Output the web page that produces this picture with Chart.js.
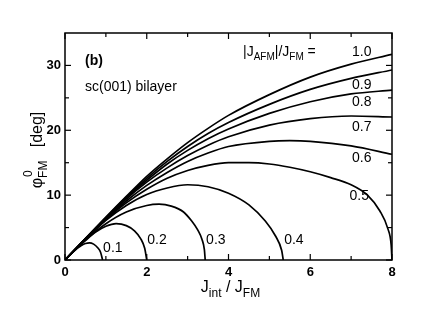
<!DOCTYPE html>
<html>
<head>
<meta charset="utf-8">
<script src="https://cdn.jsdelivr.net/npm/chart.js@4.4.1/dist/chart.umd.min.js"></script>
<style>
  html, body { margin: 0; padding: 0; background: #fff; }
  #wrap { width: 423px; height: 327px; }
</style>
</head>
<body>
<div id="wrap"><canvas id="grafik" width="423" height="327"></canvas></div>
<script>
// === DATA ===
// J_int / J_FM  vs  phi_FM^0 [deg], satu kurva per |J_AFM|/J_FM
const x01 = [0, 0.1, 0.2, 0.3, 0.4, 0.5, 0.6, 0.7, 0.8, 0.87, 0.92];
const phi01 = [0, 0.65, 1.25, 1.8, 2.25, 2.55, 2.65, 2.45, 1.9, 1.2, 0];

const x02 = [0, 0.25, 0.5, 0.75, 1, 1.25, 1.5, 1.7, 1.85, 1.95, 2.0];
const phi02 = [0, 1.6, 3.0, 4.3, 5.2, 5.6, 5.3, 4.5, 3.3, 1.8, 0];

const x03 = [0, 0.25, 0.5, 1, 1.5, 2, 2.3, 2.6, 2.9, 3.1, 3.25, 3.35, 3.41, 3.43];
const phi03 = [0, 1.6, 3.1, 5.6, 7.4, 8.4, 8.6, 8.3, 7.4, 6.0, 4.6, 3.2, 1.6, 0];

const x04 = [0, 0.5, 1, 1.5, 2, 2.5, 3, 3.5, 4, 4.5, 4.9, 5.15, 5.3, 5.34];
const phi04 = [0, 3.2, 6.1, 8.4, 10.1, 11.1, 11.6, 11.3, 10.3, 8.5, 6.0, 3.7, 1.5, 0];

const x05 = [0, 0.5, 1, 1.5, 2, 2.5, 3, 3.5, 4, 4.5, 5, 5.5, 6, 6.5, 7, 7.4, 7.7, 7.9, 7.98, 8];
const phi05 = [0, 3.2, 6.2, 8.8, 10.9, 12.6, 13.8, 14.6, 15.0, 15.0, 14.8, 14.3, 13.6, 12.7, 11.6, 10.0, 7.6, 4.8, 2.3, 0];

const x06 = [0, 0.5, 1, 1.5, 2, 2.5, 3, 3.5, 4, 5, 5.5, 6, 7, 8];
const phi06 = [0, 3.3, 6.3, 9.1, 11.5, 13.5, 15.2, 16.5, 17.5, 18.3, 18.4, 18.3, 17.6, 16.3];

const x07 = [0, 0.5, 1, 1.5, 2, 2.5, 3, 3.5, 4, 5, 6, 7, 8];
const phi07 = [0, 3.3, 6.4, 9.4, 12.0, 14.2, 16.1, 17.7, 19.0, 20.8, 21.8, 22.2, 22.05];

const x08 = [0, 0.5, 1, 1.5, 2, 2.5, 3, 3.5, 4, 5, 6, 7, 8];
const phi08 = [0, 3.3, 6.5, 9.6, 12.3, 14.8, 16.9, 18.7, 20.2, 22.6, 24.4, 25.6, 26.2];

const x09 = [0, 0.5, 1, 1.5, 2, 2.5, 3, 3.5, 4, 5, 6, 7, 8];
const phi09 = [0, 3.3, 6.5, 9.7, 12.6, 15.2, 17.5, 19.5, 21.2, 24.0, 26.3, 28.0, 29.3];

const x10 = [0, 0.5, 1, 1.5, 2, 2.5, 3, 3.5, 4, 5, 6, 7, 8];
const phi10 = [0, 3.3, 6.6, 9.8, 12.9, 15.6, 18.1, 20.3, 22.3, 25.5, 28.2, 30.2, 31.7];

const ratioLabels = ["0.1", "0.2", "0.3", "0.4", "0.5", "0.6", "0.7", "0.8", "0.9", "1.0"];

const xTicks = [0, 2, 4, 6, 8];
const xMinorTicks = [1, 3, 5, 7];
const yTicks = [0, 10, 20, 30];
const yMinorTicks = [5, 15, 25];

// posisi label kurva (koordinat data)
const labelPos = [
  [1.17, 1.9], [2.25, 3.0], [3.69, 3.0], [5.6, 3.0], [7.2, 9.9],
  [7.26, 15.7], [7.26, 20.5], [7.26, 24.3], [7.26, 26.9], [7.26, 32.0]
];

const FONT = "'Liberation Sans', Arial, Helvetica, sans-serif";

const allX = [x01, x02, x03, x04, x05, x06, x07, x08, x09, x10];
const allPhi = [phi01, phi02, phi03, phi04, phi05, phi06, phi07, phi08, phi09, phi10];

const datasets = allX.map((xs, i) => ({
  label: ratioLabels[i],
  data: xs.map((x, j) => ({ x: x, y: allPhi[i][j] })),
  borderColor: "#000",
  borderWidth: 1.7,
  pointRadius: 0,
  showLine: true,
  fill: false,
  cubicInterpolationMode: "monotone"
}));

// tulis teks dengan subscript / superscript
function drawRuns(ctx, runs, x, y) {
  let cx = x;
  runs.forEach(r => {
    ctx.font = r.font;
    ctx.fillText(r.t, cx, y + (r.dy || 0));
    cx += ctx.measureText(r.t).width;
  });
  return cx - x;
}
function runsWidth(ctx, runs) {
  let w = 0;
  runs.forEach(r => { ctx.font = r.font; w += ctx.measureText(r.t).width; });
  return w;
}

const decorPlugin = {
  id: "decor",
  afterDraw(chart) {
    const ctx = chart.ctx;
    const { left, right, top, bottom } = chart.chartArea;
    const sx = chart.scales.x, sy = chart.scales.y;
    ctx.save();
    ctx.strokeStyle = "#000";
    ctx.lineWidth = 1.5;
    ctx.strokeRect(left, top, right - left, bottom - top);

    // tick ke dalam, di keempat sisi
    ctx.lineWidth = 1.2;
    const seg = (a, b, c, d) => { ctx.beginPath(); ctx.moveTo(a, b); ctx.lineTo(c, d); ctx.stroke(); };
    xTicks.forEach(v => { const p = sx.getPixelForValue(v); seg(p, bottom, p, bottom - 6); seg(p, top, p, top + 6); });
    xMinorTicks.forEach(v => { const p = sx.getPixelForValue(v); seg(p, bottom, p, bottom - 4); seg(p, top, p, top + 4); });
    yTicks.forEach(v => { const p = sy.getPixelForValue(v); seg(left, p, left + 6, p); seg(right, p, right - 6, p); });
    yMinorTicks.forEach(v => { const p = sy.getPixelForValue(v); seg(left, p, left + 4, p); seg(right, p, right - 4, p); });

    ctx.fillStyle = "#000";

    // label kurva
    ctx.font = "14px " + FONT;
    ctx.textAlign = "center";
    ctx.textBaseline = "middle";
    labelPos.forEach((p, i) => {
      ctx.fillText(ratioLabels[i], sx.getPixelForValue(p[0]), sy.getPixelForValue(p[1]));
    });
    ctx.textAlign = "left";
    ctx.textBaseline = "alphabetic";

    ctx.font = "bold 14px " + FONT;
    ctx.fillText("(b)", left + 20, top + 32);
    ctx.font = "14px " + FONT;
    ctx.fillText("sc(001) bilayer", left + 20, top + 58);

    const fMain = "14px " + FONT, fSub = "10px " + FONT;
    drawRuns(ctx, [
      { t: "|J", font: fMain }, { t: "AFM", font: fSub, dy: 4 },
      { t: "|/J", font: fMain }, { t: "FM", font: fSub, dy: 4 },
      { t: " =", font: fMain }
    ], 243, top + 23);

    // judul sumbu x
    const fBig = "16px " + FONT, fSmall = "12px " + FONT;
    const xRuns = [
      { t: "J", font: fBig }, { t: "int", font: fSmall, dy: 5 },
      { t: " / J", font: fBig }, { t: "FM", font: fSmall, dy: 5 }
    ];
    const xw = runsWidth(ctx, xRuns);
    drawRuns(ctx, xRuns, (left + right) / 2 - xw / 2 + 2, bottom + 32);

    // judul sumbu y (diputar)
    ctx.translate(42, 150);
    ctx.rotate(-Math.PI / 2);
    const yRuns = [
      { t: "\u03C6", font: fBig }, { t: "FM", font: fSmall, dy: 5 },
      { t: "   [deg]", font: fBig }
    ];
    const yw = runsWidth(ctx, yRuns);
    const x0 = -yw / 2;
    ctx.font = fBig;
    const phiW = ctx.measureText("\u03C6").width;
    drawRuns(ctx, yRuns, x0, 0);
    ctx.font = fSmall;
    ctx.fillText("0", x0 + phiW + 1, -10);
    ctx.restore();
  }
};

const ctx = document.getElementById("grafik").getContext("2d");
new Chart(ctx, {
  type: "scatter",
  data: { datasets: datasets },
  options: {
    responsive: false,
    animation: false,
    layout: { padding: { left: 0, right: 31, top: 33, bottom: 0 } },
    plugins: { legend: { display: false }, tooltip: { enabled: false } },
    scales: {
      x: {
        type: "linear", min: 0, max: 8,
        afterBuildTicks: s => { s.ticks = xTicks.map(v => ({ value: v })); },
        afterFit: s => { s.height = 67; },
        grid: { display: false, drawTicks: false },
        border: { display: false },
        ticks: { padding: 5, color: "#000", font: { family: FONT, size: 13, weight: "bold" } }
      },
      y: {
        type: "linear", min: 0, max: 35,
        afterBuildTicks: s => { s.ticks = yTicks.map(v => ({ value: v })); },
        afterFit: s => { s.width = 65; },
        grid: { display: false, drawTicks: false },
        border: { display: false },
        ticks: { padding: 4, color: "#000", font: { family: FONT, size: 13, weight: "bold" } }
      }
    }
  },
  plugins: [decorPlugin]
});
</script>
</body>
</html>
